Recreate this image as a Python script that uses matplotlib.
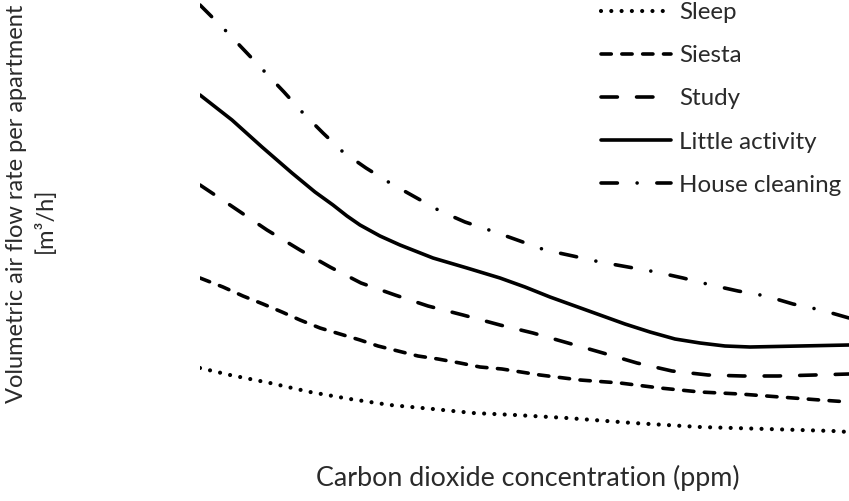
import matplotlib
matplotlib.use("Agg")
import matplotlib.pyplot as plt

plt.rcParams['font.family'] = ['Lato', 'DejaVu Sans']
plt.rcParams['lines.scale_dashes'] = False

TEXT = '#2a2a2a'

# Values (x: position along the CO2 axis, y: flow rate, arbitrary units)
clean_x = [200, 225, 245, 264, 284, 303, 323, 343, 366, 390, 415, 440, 465, 492, 520, 545, 573,
           600, 628, 656, 683, 711, 738, 766, 793, 821, 849]
clean_y = [496, 471, 450, 430, 409, 388, 368, 349, 333, 318, 304, 290, 279, 270, 260, 251, 245,
           239, 234, 229, 223, 216, 210, 205, 197, 191, 183]

little_x = [200, 232, 262, 292, 315, 333, 347, 360, 380, 400, 433, 467, 500, 525, 550, 575, 600,
            625, 650, 675, 700, 725, 750, 800, 849]
little_y = [406, 381, 354, 328, 309, 296, 285, 276, 265, 256, 243, 233, 223, 214, 204, 195, 186,
            177, 169, 162, 158, 155, 154, 155, 156]

study_x = [200, 230, 267, 300, 330, 361, 395, 428, 463, 500, 533, 568, 603, 637, 672, 708, 743,
           778, 815, 849]
study_y = [316, 296, 271, 251, 234, 218, 206, 195, 186, 176, 168, 158, 148, 138, 130, 126, 125,
           125, 126, 127]

siesta_x = [200, 223, 243, 263, 282, 300, 320, 340, 360, 378, 398, 418, 438, 460, 480, 502,
            540, 580, 620, 660, 700, 740, 780, 820, 849]
siesta_y = [223, 214, 205, 197, 189, 181, 173, 167, 161, 155, 150, 145, 142, 138, 134, 132,
            126, 121, 118, 113, 109, 107, 104, 101, 99]

sleep_x = [200, 230, 270, 310, 350, 390, 433, 473, 515, 567, 633, 700, 767, 833, 849]
sleep_y = [133, 126, 118, 109, 102, 96, 92, 88, 86, 83, 78, 74, 72, 70, 69]

labels = ['Sleep', 'Siesta', 'Study', 'Little activity', 'House cleaning']
xlabel = 'Carbon dioxide concentration (ppm)'
ylabel_1 = 'Volumetric air flow rate per apartment'
ylabel_2 = '[m³/h]'

fig = plt.figure(figsize=(8.49, 5.01), dpi=100)
ax = fig.add_axes([200 / 849, 0, 649 / 849, 1])
ax.set_xlim(200, 849)
ax.set_ylim(0, 501)
ax.axis('off')

lw = 2.6
common = dict(color='black', solid_capstyle='round', dash_capstyle='round')
h_sleep, = ax.plot(sleep_x, sleep_y, lw=3.0, linestyle=(0, (0.01, 7.4)), **common)
h_siesta, = ax.plot(siesta_x, siesta_y, lw=lw, linestyle=(0, (7.4, 7.6)), **common)
h_study, = ax.plot(study_x, study_y, lw=lw, linestyle=(0, (11.8, 13.8)), **common)
h_little, = ax.plot(little_x, little_y, lw=lw, linestyle='-', **common)
h_clean, = ax.plot(clean_x, clean_y, lw=lw, linestyle=(0, (11.8, 14.2, 0.01, 14.2)), **common)

fs_leg = 17.4
fs_px = fs_leg * 100 / 72
leg = fig.legend([h_sleep, h_siesta, h_study, h_little, h_clean], labels,
                 loc='upper left', bbox_to_anchor=(601 / 849, 1 - 2 / 501),
                 frameon=False, fontsize=fs_leg, handlelength=70 / fs_px,
                 handletextpad=0.33, labelspacing=0.92, borderpad=0, borderaxespad=0)
for t in leg.get_texts():
    t.set_color(TEXT)

fig.text(528 / 849, 1 - 478 / 501, xlabel,
         ha='center', va='center', fontsize=19.4, color=TEXT)
fig.text(17 / 849, 1 - 204 / 501, ylabel_1,
         ha='center', va='center', rotation=90, fontsize=17, color=TEXT)
fig.text(45 / 849, 1 - 220 / 501, ylabel_2,
         ha='center', va='center', rotation=90, fontsize=17, color=TEXT)

fig.savefig('out.png', dpi=100)
